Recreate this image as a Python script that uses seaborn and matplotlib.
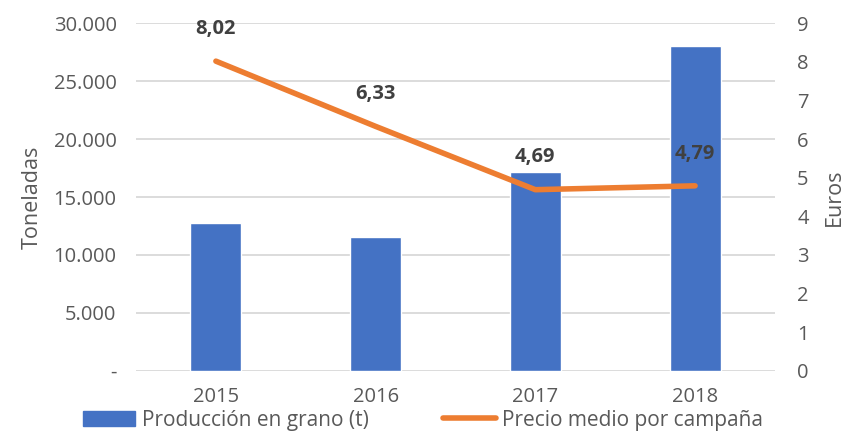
import numpy as np
import pandas as pd
import seaborn as sns
import matplotlib.pyplot as plt
from matplotlib.patches import Patch
from matplotlib.lines import Line2D
from matplotlib.ticker import FuncFormatter

# Datos
anios = ['2015', '2016', '2017', '2018']
produccion = [12730, 11520, 17140, 28070]   # toneladas
precio = [8.02, 6.33, 4.69, 4.79]           # euros
etiquetas_precio = ['8,02', '6,33', '4,69', '4,79']

df = pd.DataFrame({'anio': anios, 'produccion': produccion, 'precio': precio})

sns.set_style('white')
plt.rcParams['font.family'] = ['Open Sans', 'DejaVu Sans']

azul = '#4472C4'
naranja = '#ED7D31'
gris_texto = '#595959'
gris_rejilla = '#D9D9D9'

fig = plt.figure(figsize=(8.46, 4.41), dpi=100)
ax = fig.add_axes([0.1608, 0.1594, 0.7552, 0.7877])

sns.barplot(data=df, x='anio', y='produccion', color=azul, width=0.32,
            saturation=1, ax=ax, zorder=2)
ax.set_ylim(0, 30000)
ax.set_yticks(range(0, 30001, 5000))
ax.yaxis.set_major_formatter(FuncFormatter(
    lambda v, p: '-' if v == 0 else f'{int(v):,}'.replace(',', '.')))
ax.grid(axis='y', color=gris_rejilla, linewidth=1.3, zorder=0)
ax.set_axisbelow(True)
ax.set_xlabel('')
ax.set_ylabel('Toneladas', fontsize=15.5, color=gris_texto, labelpad=8)
ax.tick_params(axis='y', labelsize=14.5, colors=gris_texto, length=0, pad=14)
ax.tick_params(axis='x', labelsize=14.5, colors=gris_texto, length=0, pad=12)
for s in ax.spines.values():
    s.set_visible(False)

ax2 = ax.twinx()
sns.pointplot(data=df, x='anio', y='precio', color=naranja, markers='',
              linewidth=4, ax=ax2, errorbar=None)
ax2.set_ylim(0, 9)
ax2.set_yticks(range(0, 10))
ax2.set_xlim(-0.5, 3.5)
ax2.set_ylabel('Euros', fontsize=15.5, color=gris_texto, labelpad=11)
ax2.tick_params(axis='y', labelsize=14.5, colors=gris_texto, length=0, pad=16)
for s in ax2.spines.values():
    s.set_visible(False)

for i, (v, t) in enumerate(zip(precio, etiquetas_precio)):
    ax2.annotate(t, (i, v), xytext=(0, 16), textcoords='offset points',
                 ha='center', va='bottom', fontsize=14.5, fontweight='bold',
                 color='#404040')

handles = [Patch(facecolor=azul, edgecolor=azul),
           Line2D([0], [0], color=naranja, linewidth=4)]
fig.legend(handles, ['Producción en grano (t)', 'Precio medio por campaña'],
           loc='lower center', bbox_to_anchor=(0.5, 0.0), ncol=2, frameon=False,
           fontsize=15, labelcolor=gris_texto, handlelength=2.5,
           handletextpad=0.3, columnspacing=3.6, borderaxespad=0.1)

fig.savefig('out.png', dpi=100)
